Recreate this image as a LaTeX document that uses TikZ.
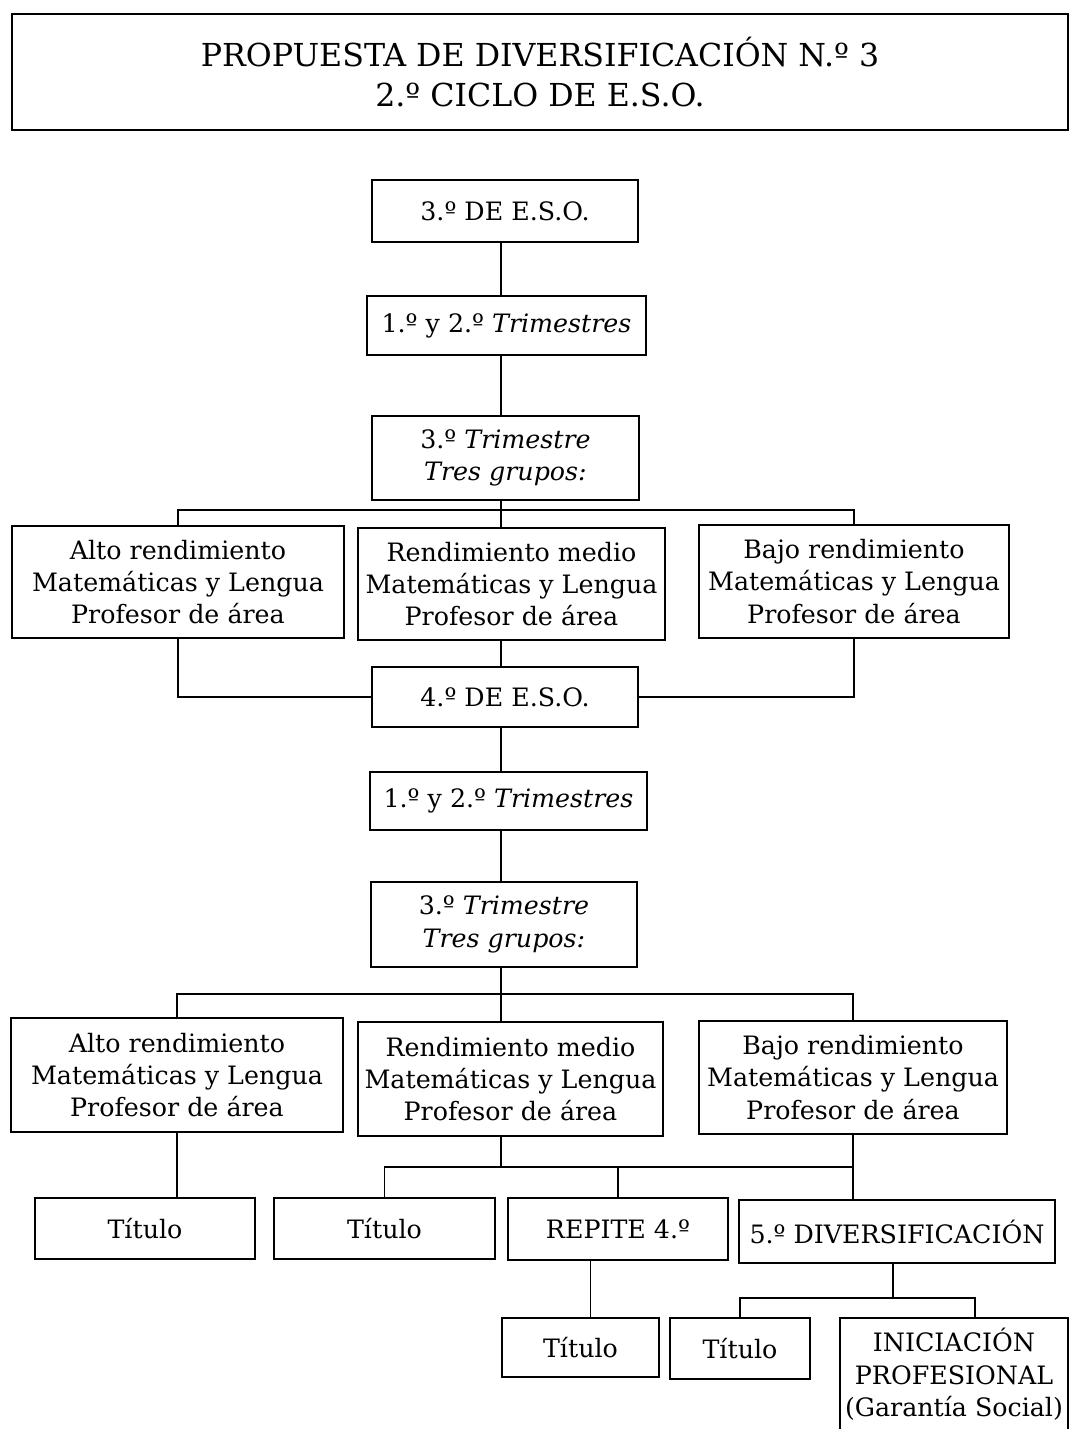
\documentclass[tikz,border=0pt]{standalone}
\usepackage{fontspec}
\setmainfont{DejaVu Serif}
\usepackage{tikz}
\usetikzlibrary{positioning, calc}

\begin{document}
\begin{tikzpicture}[x=0.025cm, y=-0.025cm,
        box/.style={rectangle, draw=black, line width=1.3pt, align=center, inner sep=0pt, font=\fontsize{18}{23}\selectfont},
        line/.style={draw=black, line width=1.3pt}]

        \clip (0,0) rectangle (1070,1429);

        % cabecera
        \node [box, minimum width=26.4cm, minimum height=2.9cm, font=\fontsize{22.5}{28}\selectfont] (title) at (540,72)
            {PROPUESTA DE DIVERSIFICACIÓN N.º 3\\2.º CICLO DE E.S.O.};

        % tercero
        \node [box, minimum width=6.65cm, minimum height=1.55cm] (eso3) at (505,211) {3.º DE E.S.O.};
        \node [box, minimum width=6.975cm, minimum height=1.475cm] (tri12a) at (506.5,325.5) {1.º y 2.º \textit{Trimestres}};
        \node [box, minimum width=6.675cm, minimum height=2.1cm] (tri3a) at (505.5,458) {3.º \textit{Trimestre}\\\textit{Tres grupos:}};

        \node [box, minimum width=8.3cm, minimum height=2.8cm] (altoa) at (178,582)
            {Alto rendimiento\\Matemáticas y Lengua\\Profesor de área};
        \node [box, minimum width=7.675cm, minimum height=2.8cm] (medioa) at (511.5,584)
            {Rendimiento medio\\Matemáticas y Lengua\\Profesor de área};
        \node [box, minimum width=7.75cm, minimum height=2.825cm] (bajoa) at (854,581.5)
            {Bajo rendimiento\\Matemáticas y Lengua\\Profesor de área};

        % cuarto
        \node [box, minimum width=6.65cm, minimum height=1.5cm] (eso4) at (505,697) {4.º DE E.S.O.};
        \node [box, minimum width=6.925cm, minimum height=1.45cm] (tri12b) at (508.5,801) {1.º y 2.º \textit{Trimestres}};
        \node [box, minimum width=6.65cm, minimum height=2.125cm] (tri3b) at (504,924.5) {3.º \textit{Trimestre}\\\textit{Tres grupos:}};

        \node [box, minimum width=8.3cm, minimum height=2.85cm] (altob) at (177,1075)
            {Alto rendimiento\\Matemáticas y Lengua\\Profesor de área};
        \node [box, minimum width=7.625cm, minimum height=2.85cm] (mediob) at (510.5,1079)
            {Rendimiento medio\\Matemáticas y Lengua\\Profesor de área};
        \node [box, minimum width=7.7cm, minimum height=2.825cm] (bajob) at (853,1077.5)
            {Bajo rendimiento\\Matemáticas y Lengua\\Profesor de área};

        % salidas
        \node [box, minimum width=5.5cm, minimum height=1.525cm] (tit1) at (145,1228.5) {Título};
        \node [box, minimum width=5.525cm, minimum height=1.525cm] (tit2) at (384.5,1228.5) {Título};
        \node [box, minimum width=5.5cm, minimum height=1.55cm] (repite) at (618,1229) {REPITE 4.º};
        \node [box, minimum width=7.9cm, minimum height=1.575cm] (div5) at (897,1231.5) {5.º DIVERSIFICACIÓN};

        \node [box, minimum width=3.925cm, minimum height=1.475cm] (tit3) at (580.5,1347.5) {Título};
        \node [box, minimum width=3.5cm, minimum height=1.525cm] (tit4) at (740,1348.5) {Título};
        \node [box, minimum width=5.7cm, minimum height=2.825cm] (inic) at (954,1374.5)
            {INICIACIÓN\\PROFESIONAL\\(Garantía Social)};

        \coordinate (busa) at (501,510);
        \coordinate (busb) at (501,994);
        \coordinate (busc) at (501,1167);
        \coordinate (busd) at (893,1298);

        \path [line] (eso3.south -| busa) -- (tri12a.north -| busa);
        \path [line] (tri12a.south -| busa) -- (tri3a.north -| busa);
        \path [line] (tri3a.south -| busa) -- (medioa.north -| busa);
        \path [line] (altoa.north) |- (busa) -| (bajoa.north);
        \path [line] (altoa.south) |- (eso4.west);
        \path [line] (bajoa.south) |- (eso4.east);
        \path [line] (medioa.south -| busa) -- (eso4.north -| busa);

        \path [line] (eso4.south -| busb) -- (tri12b.north -| busb);
        \path [line] (tri12b.south -| busb) -- (tri3b.north -| busb);
        \path [line] (tri3b.south -| busb) -- (mediob.north -| busb);
        \path [line] (altob.north) |- (busb) -| (bajob.north);

        \path [line] (altob.south) -- (altob.south |- tit1.north);
        \path [line] (mediob.south -| busc) -- (busc);
        \path [line] (tit2.north) |- (busc -| bajob.south);
        \path [line] (repite.north) -- (repite.north |- busc);
        \path [line] (bajob.south) -- (bajob.south |- div5.north);
        \path [line] ([xshift=0.25cm]tit3.north) -- ([xshift=0.25cm]tit3.north |- repite.south);
        \path [line] (div5.south -| busd) -- (busd);
        \path [line] (tit4.north) |- (busd) -| ([xshift=0.525cm]inic.north);
    \end{tikzpicture}
\end{document}
